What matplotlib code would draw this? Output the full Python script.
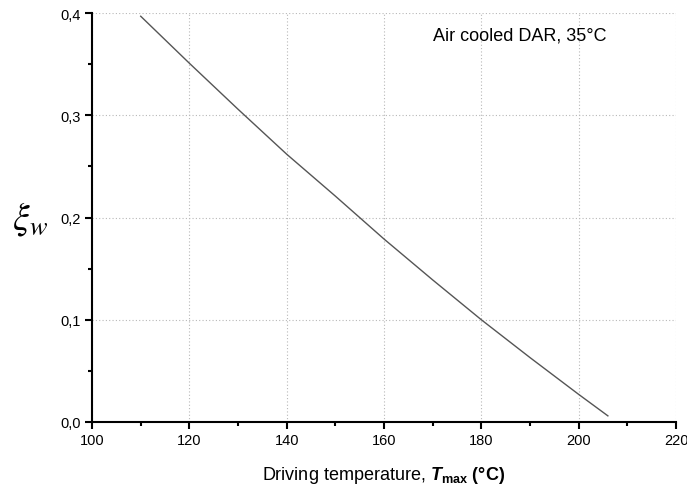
import matplotlib
matplotlib.use("Agg")
from matplotlib import pyplot as plt
from matplotlib.ticker import MultipleLocator, FuncFormatter

# values
tempMax = [110, 120, 130, 140, 150, 155, 160, 170, 180, 190, 200, 206]
xiW = [0.397, 0.351, 0.306, 0.262, 0.221, 0.200, 0.179, 0.139, 0.100, 0.063, 0.027, 0.006]

plt.rcParams['font.family'] = ['Liberation Sans', 'DejaVu Sans']
plt.rcParams['mathtext.fontset'] = 'custom'
plt.rcParams['mathtext.rm'] = 'Liberation Sans'
plt.rcParams['mathtext.bf'] = 'Liberation Sans:bold'
plt.rcParams['mathtext.it'] = 'Liberation Sans:italic'
plt.rcParams['mathtext.bfit'] = 'Liberation Sans:bold:italic'

figure = plt.figure(figsize=(6.87, 4.89), dpi=100)
axes = figure.add_axes([0.134, 0.135, 0.850, 0.836])

axes.plot(tempMax, xiW, color='#555555', linewidth=1.0)

axes.set_xlim(100, 220)
axes.set_ylim(0, 0.4)
axes.xaxis.set_major_locator(MultipleLocator(20))
axes.xaxis.set_minor_locator(MultipleLocator(10))
axes.yaxis.set_major_locator(MultipleLocator(0.1))
axes.yaxis.set_minor_locator(MultipleLocator(0.05))
axes.yaxis.set_major_formatter(FuncFormatter(lambda v, p: f'{v:.1f}'.replace('.', ',')))

axes.grid(True, which='major', linestyle=(0, (1, 2)), color='#b8b8b8', linewidth=0.8)
for side in ['top', 'right']:
    axes.spines[side].set_visible(False)
for side in ['left', 'bottom']:
    axes.spines[side].set_linewidth(1.5)
axes.tick_params(which='major', direction='out', length=5, width=1.5, labelsize=10.5, pad=3)
axes.tick_params(which='minor', direction='out', length=3, width=1.5)

axes.text(170, 0.379, 'Air cooled DAR, 35°C', fontsize=13, va='center', ha='left')

axes.set_xlabel(r'Driving temperature, $\mathbfit{T}_{\mathbf{max}}\ \mathbf{(°C)}$', fontsize=13, labelpad=12)
axes.set_ylabel(r'$\xi_w$', fontsize=27, rotation=0, math_fontfamily='stix', labelpad=22, va='center')

figure.savefig('out.png', dpi=100)
